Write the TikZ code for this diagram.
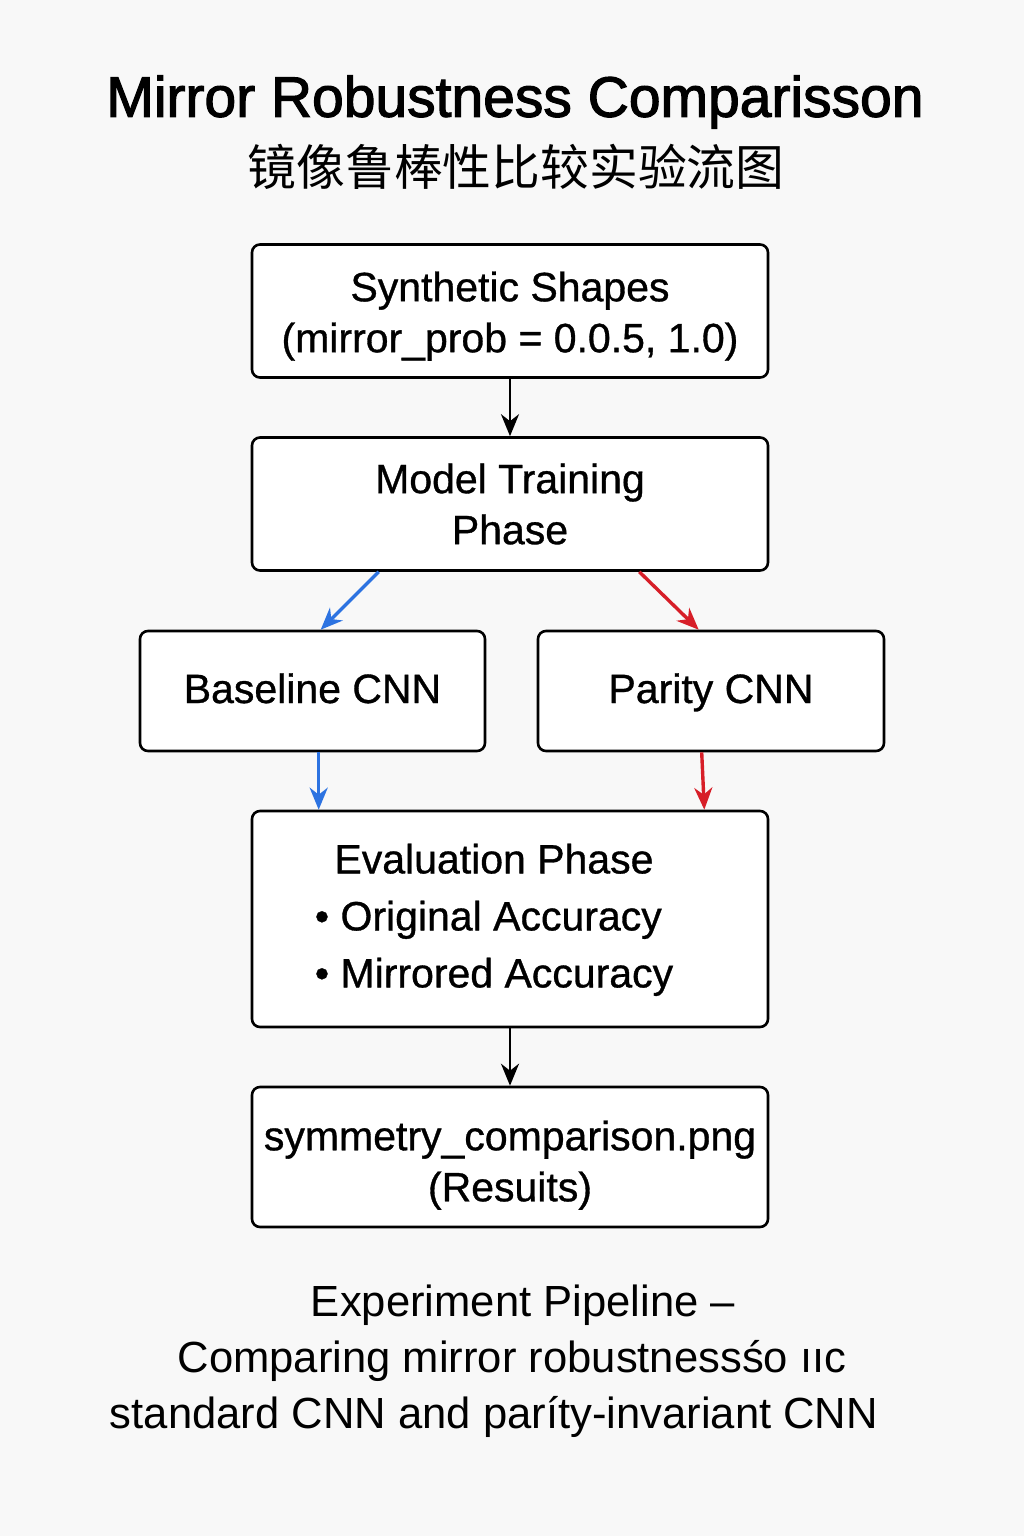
\documentclass[tikz,border=0pt]{standalone}
\usepackage{fontspec}
\setmainfont{Liberation Sans}
\newfontfamily\boxfont{Liberation Sans}[FakeBold=0.8]
\newfontfamily\titlefont{Liberation Sans}[FakeBold=2]
\newfontfamily\cjk{Noto Sans CJK SC}
\usetikzlibrary{arrows.meta}
\definecolor{bgpaper}{RGB}{248,248,248}
\definecolor{flowblue}{RGB}{45,115,225}
\definecolor{flowred}{RGB}{215,30,40}
\tikzset{
  stagebox/.style={draw=black,line width=1.3pt,rounded corners=4pt,fill=white,
    align=center,font=\boxfont\fontsize{20.5}{25.5}\selectfont,inner sep=0pt},
  flow/.style={line width=1.4pt,-{Stealth[length=11pt,width=9pt,inset=3.5pt]}},
  sideflow/.style={flow,line width=1.7pt}
}
\begin{document}
\begin{tikzpicture}[x=0.5pt,y=-0.5pt]
  \useasboundingbox[fill=bgpaper] (0,0) rectangle (1024,1536);
  % title
  \node (title) at (515,102) {\titlefont\fontsize{28.5}{34}\selectfont Mirror Robustness Comparisson};
  \node (subtitle) at (516,167) {\cjk\fontsize{24.4}{28}\selectfont 镜像鲁棒性比较实验流图};
  % boxes
  \node[stagebox,minimum width=258pt,minimum height=66.5pt] (data) at (510,311)
    {\rule{0pt}{20pt}Synthetic Shapes\\(mirror\_prob = 0.0.5, 1.0)};
  \node[stagebox,minimum width=258pt,minimum height=66.5pt] (train) at (510,504)
    {Model Training\\Phase};
  \node[stagebox,minimum width=172.5pt,minimum height=60pt,text height=16.5pt,text depth=4.5pt] (base) at (312.5,691)
    {Baseline CNN};
  \node[stagebox,minimum width=173pt,minimum height=60pt,text height=16.5pt,text depth=4.5pt] (parity) at (711,691)
    {Parity CNN};
  \node[stagebox,minimum width=258pt,minimum height=108pt] (eval) at (510,919)
    {\fontsize{20.5}{28.5}\selectfont\begin{tabular}{@{}l@{}}
      \multicolumn{1}{@{}c@{}}{Evaluation Phase}\\
      • Original Accuracy\\
      • Mirrored Accuracy
    \end{tabular}\hspace*{16pt}};
  \node[stagebox,minimum width=258pt,minimum height=70pt] (result) at (510,1157)
    {\rule{0pt}{23pt}symmetry\_comparison.png\\(Resuits)};
  % arrows
  \coordinate (tb) at ([xshift=64pt]train.south west);
  \coordinate (bt) at ([xshift=91pt]base.north west);
  \coordinate (tr) at ([xshift=-65pt]train.south east);
  \coordinate (pt) at ([xshift=81pt]parity.north west);
  \coordinate (bb) at ([xshift=90pt]base.south west);
  \coordinate (eb) at ([xshift=34pt]eval.north west);
  \coordinate (pb) at ([xshift=82.5pt]parity.south west);
  \coordinate (er) at ([xshift=-32.5pt]eval.north east);
  \draw[flow] (data.south) -- (train.north);
  \draw[sideflow,flowblue] (tb) -- (bt);
  \draw[sideflow,flowred] (tr) -- (pt);
  \draw[sideflow,flowblue] (bb) -- (eb);
  \draw[sideflow,flowred] (pb) -- (er);
  \draw[flow] (eval.south) -- (result.north);
  % caption
  \node[font=\fontsize{21.8}{28}\selectfont] (cap1) at (523,1305) {Experiment Pipeline –};
  \node[font=\fontsize{21.8}{28}\selectfont] (cap2) at (512,1361) {Comparing mirror robustnessśo ııc};
  \node[font=\fontsize{21.8}{28}\selectfont] (cap3) at (494,1417) {standard CNN and paríty-invariant CNN};
\end{tikzpicture}
\end{document}
